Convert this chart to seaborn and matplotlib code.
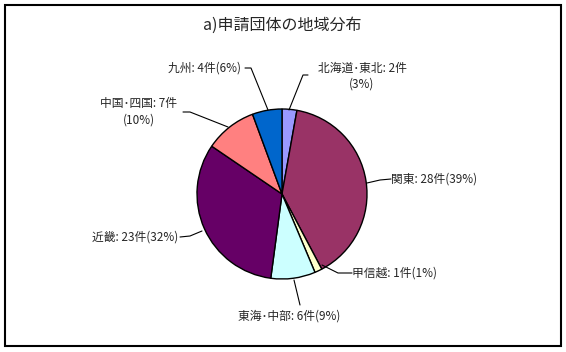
import seaborn as sns
import matplotlib.pyplot as plt
from matplotlib.patches import Rectangle

regions = ["北海道･東北", "関東", "甲信越", "東海･中部", "近畿", "中国･四国", "九州"]
counts = [2, 28, 1, 6, 23, 7, 4]
percents = [3, 39, 1, 9, 32, 10, 6]
colors = ["#9999FF", "#993366", "#FFFFCC", "#CCFFFF", "#660066", "#FF8080", "#0066CC"]

sns.set_style("white")
plt.rcParams["font.family"] = ["Noto Sans CJK JP", "DejaVu Sans"]

fig = plt.figure(figsize=(5.66, 3.52), dpi=100)
ax = fig.add_axes([0, 0, 1, 1])

# y axis runs downward, so startangle -90 + counterclock draws clockwise from 12 o'clock
ax.pie(counts, colors=colors, startangle=-90, counterclock=True,
       center=(282, 194), radius=85, frame=True,
       wedgeprops=dict(edgecolor="black", linewidth=1))
ax.set_xlim(0, 566)
ax.set_ylim(352, 0)
ax.axis("off")

# text position, alignment, leader line points (same order as regions)
label_pos = [
    ((362, 76), "center", [(308, 75), (303, 75), (289, 110)]),
    ((391, 179), "left", [(391, 179), (380, 180), (367, 183)]),
    ((352, 273), "left", [(352, 273), (338, 273), (322, 265)]),
    ((289, 316), "center", [(300, 305), (294, 280)]),
    ((178, 237), "right", [(180, 237), (190, 236), (202, 231)]),
    ((139, 112), "center", [(183, 112), (190, 112), (228, 127)]),
    ((205, 68), "center", [(245, 68), (251, 68), (268, 110)]),
]
for name, n, pct, ((tx, ty), ha, pts) in zip(regions, counts, percents, label_pos):
    if name in ("北海道･東北", "中国･四国"):
        text = f"{name}: {n}件\n({pct}%)"
    else:
        text = f"{name}: {n}件({pct}%)"
    ax.text(tx, ty, text, ha=ha, va="center", fontsize=8.5, linespacing=1.3)
    ax.plot([p[0] for p in pts], [p[1] for p in pts], color="black", linewidth=0.8)

ax.text(282, 25, "a)申請団体の地域分布", ha="center", va="center", fontsize=11.5)

fig.patches.append(Rectangle((5 / 566, 6 / 352), 556 / 566, 341 / 352,
                             transform=fig.transFigure, fill=False,
                             edgecolor="black", linewidth=1.5))

fig.savefig("out.png", dpi=100)
